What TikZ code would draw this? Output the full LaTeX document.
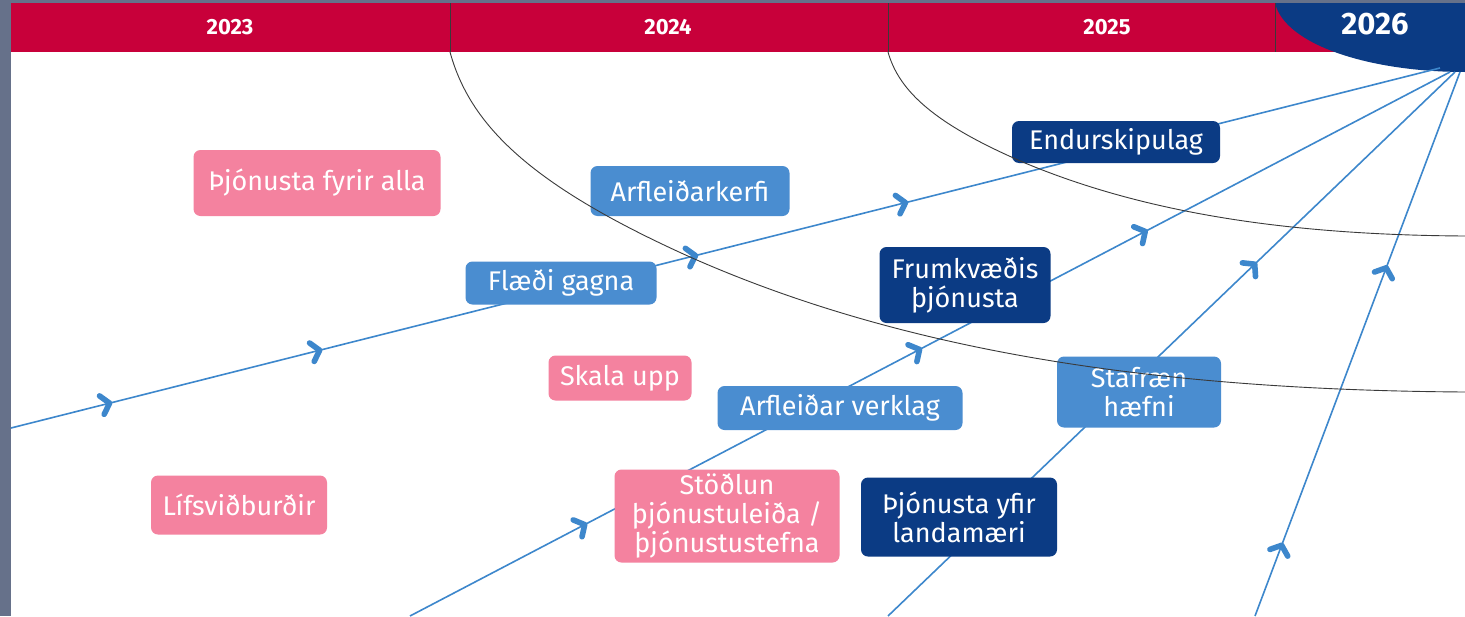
\documentclass[tikz,border=0pt]{standalone}
\usepackage{fontspec}
\setmainfont{Fira Sans}
\usetikzlibrary{decorations.markings}
\definecolor{hdrred}{HTML}{C8003A}
\definecolor{navy}{HTML}{0B3B84}
\definecolor{lblue}{HTML}{4A8DD0}
\definecolor{pinkbox}{HTML}{F4829F}
\definecolor{lineblue}{HTML}{3D87CC}
\definecolor{sidegray}{HTML}{66718A}
\definecolor{arcgray}{HTML}{3A3A3A}
\newcommand{\chevmark}{\draw[lineblue, line width=5.6pt, line cap=round, line join=round] (-8pt,-9.5pt) -- (0pt,0pt) -- (-8pt,9.5pt);}
\tikzset{
  box/.style={rounded corners=7pt, text=white, align=center, inner sep=0pt,
    font=\fontsize{27}{29}\selectfont},
  pinkb/.style={box, fill=pinkbox},
  lightb/.style={box, fill=lblue},
  navyb/.style={box, fill=navy},
  flow/.style={draw=lineblue, line width=1.6pt, postaction={decorate}},
  arcline/.style={draw=arcgray, line width=0.9pt},
  year/.style={text=white, font=\fontsize{22}{24}\selectfont\bfseries}
}
\begin{document}
\begin{tikzpicture}[x=1pt,y=-1pt]
\useasboundingbox (0,0) rectangle (1465,616);
\fill[sidegray] (0,0) rectangle (1465,616);
\fill[white] (11,3) rectangle (1465,616);
% header
\fill[hdrred] (11,3) rectangle (1465,52);
\fill[navy] (1275,3) .. controls (1285,45) and (1370,72) .. (1465,72) -- (1465,3) -- cycle;
\draw[arcgray, line width=0.8pt] (450,3) -- (450,52) (888,3) -- (888,52) (1275,3) -- (1275,52);
\node[year] (y23) at (230,27) {2023};
\node[year] (y24) at (668,27) {2024};
\node[year] (y25) at (1107,27) {2025};
\node[text=white, font=\fontsize{31}{34}\selectfont\bfseries] (y26) at (1375,24) {2026};
% flow lines
\coordinate (s1) at (11,428);   \coordinate (e1) at (1440,68);
\coordinate (s2) at (410,616);  \coordinate (e2) at (1450,72);
\coordinate (s3) at (888,616);  \coordinate (e3) at (1455,72);
\coordinate (s4) at (1255,616); \coordinate (e4) at (1460,72);
\draw[flow, decoration={markings,
  mark=at position 0.069 with {\chevmark},
  mark=at position 0.216 with {\chevmark},
  mark=at position 0.479 with {\chevmark},
  mark=at position 0.626 with {\chevmark}}] (s1) -- (e1);
\draw[flow, decoration={markings,
  mark=at position 0.168 with {\chevmark},
  mark=at position 0.49 with {\chevmark},
  mark=at position 0.707 with {\chevmark}}] (s2) -- (e2);
\draw[flow, decoration={markings,
  mark=at position 0.647 with {\chevmark}}] (s3) -- (e3);
\draw[flow, decoration={markings,
  mark=at position 0.13 with {\chevmark},
  mark=at position 0.64 with {\chevmark}}] (s4) -- (e4);
% boxes
\node[pinkb, minimum width=247pt, minimum height=66pt] (alla) at (317,183) {Þjónusta fyrir alla};
\node[lightb, minimum width=199pt, minimum height=50pt] (arfk) at (690,191) {Arfleiðarkerfi};
\node[navyb, minimum width=208pt, minimum height=42pt] (endur) at (1116,142) {Endurskipulag};
\node[lightb, minimum width=191pt, minimum height=43pt] (flaedi) at (561,283) {Flæði gagna};
\node[navyb, minimum width=171pt, minimum height=76pt] (frum) at (965,285) {Frumkvæðis\\þjónusta};
\node[pinkb, minimum width=143pt, minimum height=45pt] (skala) at (620,378) {Skala upp};
\node[lightb, minimum width=245pt, minimum height=44pt] (verk) at (840,408) {Arfleiðar verklag};
\node[lightb, minimum width=164pt, minimum height=71pt] (staf) at (1139,392) {Stafræn\\hæfni};
\node[pinkb, minimum width=176pt, minimum height=59pt] (lifs) at (239,505) {Lífsviðburðir};
\node[pinkb, minimum width=225pt, minimum height=93pt] (stodl) at (727,516) {Stöðlun\\þjónustuleiða /\\þjónustustefna};
\node[navyb, minimum width=196pt, minimum height=79pt] (land) at (959,517) {Þjónusta yfir\\landamæri};
% arcs
\draw[arcline] (450,52) .. controls (470,125) and (530,185) .. (690,257)
  .. controls (900,350) and (1150,390) .. (1465,392);
\draw[arcline] (888,52) .. controls (899,91) and (934,124) .. (1025,163)
  .. controls (1145,213) and (1288,235) .. (1465,236);
\end{tikzpicture}
\end{document}
